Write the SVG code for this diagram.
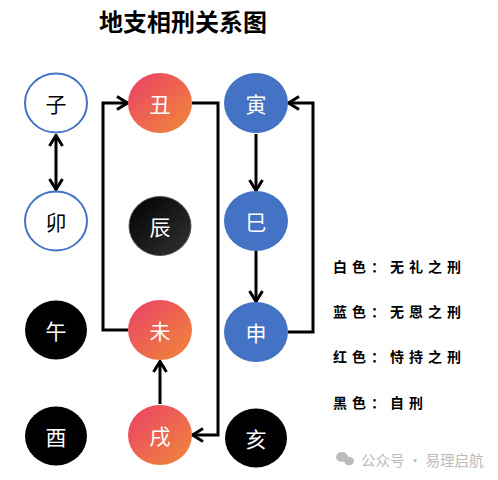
<svg xmlns="http://www.w3.org/2000/svg" width="498" height="480" viewBox="0 0 498 480">
<style>
.t{font-family:"Noto Sans CJK SC","Noto Sans",sans-serif;font-size:21px;text-anchor:middle;dominant-baseline:central}
.w{fill:#fff}
.k{fill:#000}
.lg{font-family:"Noto Sans CJK SC",sans-serif;font-size:14px;font-weight:bold;letter-spacing:5px;fill:#000}
.c{fill:none;stroke:#000;stroke-width:3}
</style>
<defs>
<linearGradient id="red" x1="0" y1="0" x2="1" y2="1">
<stop offset="0" stop-color="#EA3F66"/>
<stop offset="1" stop-color="#F08A3A"/>
</linearGradient>
<linearGradient id="blk" x1="0" y1="0" x2="1" y2="1">
<stop offset="0" stop-color="#000"/>
<stop offset="1" stop-color="#333"/>
</linearGradient>
<marker id="ah" viewBox="0 0 14 16" refX="12.5" refY="8" markerWidth="14" markerHeight="16" markerUnits="userSpaceOnUse" orient="auto-start-reverse">
<path d="M1.5,1.5 L12,8 L1.5,14.5" fill="none" stroke="#000" stroke-width="3"/>
</marker>
</defs>
<text x="183" y="31" font-family="Noto Sans CJK SC,sans-serif" font-size="24" font-weight="bold" text-anchor="middle">地支相刑关系图</text>
<g id="connectors">
<line class="c" x1="56" y1="135" x2="56" y2="190" marker-start="url(#ah)" marker-end="url(#ah)"/>
<polyline class="c" points="192,103 218,103 218,435 192,435" marker-end="url(#ah)"/>
<polyline class="c" points="128,330 103,330 103,103 128,103" marker-end="url(#ah)"/>
<line class="c" x1="160" y1="404" x2="160" y2="361" marker-end="url(#ah)"/>
<line class="c" x1="256" y1="134" x2="256" y2="191" marker-end="url(#ah)"/>
<line class="c" x1="256" y1="251" x2="256" y2="302" marker-end="url(#ah)"/>
<polyline class="c" points="288,332 313,332 313,103 288,103" marker-end="url(#ah)"/>
</g>
<g id="zi"><ellipse cx="56" cy="103" rx="31" ry="29.5" fill="#fff" stroke="#4472C4" stroke-width="2"/><text class="t k" x="56" y="103">子</text></g>
<g id="chou"><ellipse cx="160" cy="103" rx="32" ry="30" fill="url(#red)"/><text class="t w" x="160" y="103">丑</text></g>
<g id="yin"><ellipse cx="256" cy="103" rx="32" ry="30" fill="#4472C4"/><text class="t w" x="256" y="103">寅</text></g>
<g id="mao"><ellipse cx="56" cy="221" rx="31" ry="29.5" fill="#fff" stroke="#4472C4" stroke-width="2"/><text class="t k" x="56" y="221">卯</text></g>
<g id="chen"><ellipse cx="160" cy="226" rx="31" ry="29.5" fill="url(#blk)" stroke="#555" stroke-width="1"/><text class="t w" x="160" y="226">辰</text></g>
<g id="si"><ellipse cx="256" cy="221" rx="32" ry="30" fill="#4472C4"/><text class="t w" x="256" y="221">巳</text></g>
<g id="wu"><ellipse cx="56" cy="330" rx="31" ry="29.5" fill="#000"/><text class="t w" x="56" y="330">午</text></g>
<g id="wei"><ellipse cx="160" cy="330" rx="32" ry="30" fill="url(#red)"/><text class="t w" x="160" y="330">未</text></g>
<g id="shen"><ellipse cx="256" cy="332" rx="32" ry="30" fill="#4472C4"/><text class="t w" x="256" y="332">申</text></g>
<g id="you"><ellipse cx="56" cy="436" rx="31" ry="29.5" fill="#000"/><text class="t w" x="56" y="436">酉</text></g>
<g id="xu"><ellipse cx="160" cy="435" rx="32" ry="30" fill="url(#red)"/><text class="t w" x="160" y="435">戌</text></g>
<g id="hai"><ellipse cx="256" cy="438" rx="31" ry="29.5" fill="#000"/><text class="t w" x="256" y="438">亥</text></g>
<g id="legend">
<text class="lg" x="333" y="272">白色：无礼之刑</text>
<text class="lg" x="333" y="317">蓝色：无恩之刑</text>
<text class="lg" x="333" y="362">红色：恃持之刑</text>
<text class="lg" x="333" y="408">黑色：自刑</text>
</g>
<g id="watermark" fill="#bbb">
<ellipse cx="342" cy="457" rx="6" ry="5"/>
<ellipse cx="349" cy="461" rx="5" ry="4.2"/>
<text x="361" y="466" font-family="Noto Sans CJK SC,sans-serif" font-size="14.5">公众号 · 易理启航</text>
</g>
</svg>
